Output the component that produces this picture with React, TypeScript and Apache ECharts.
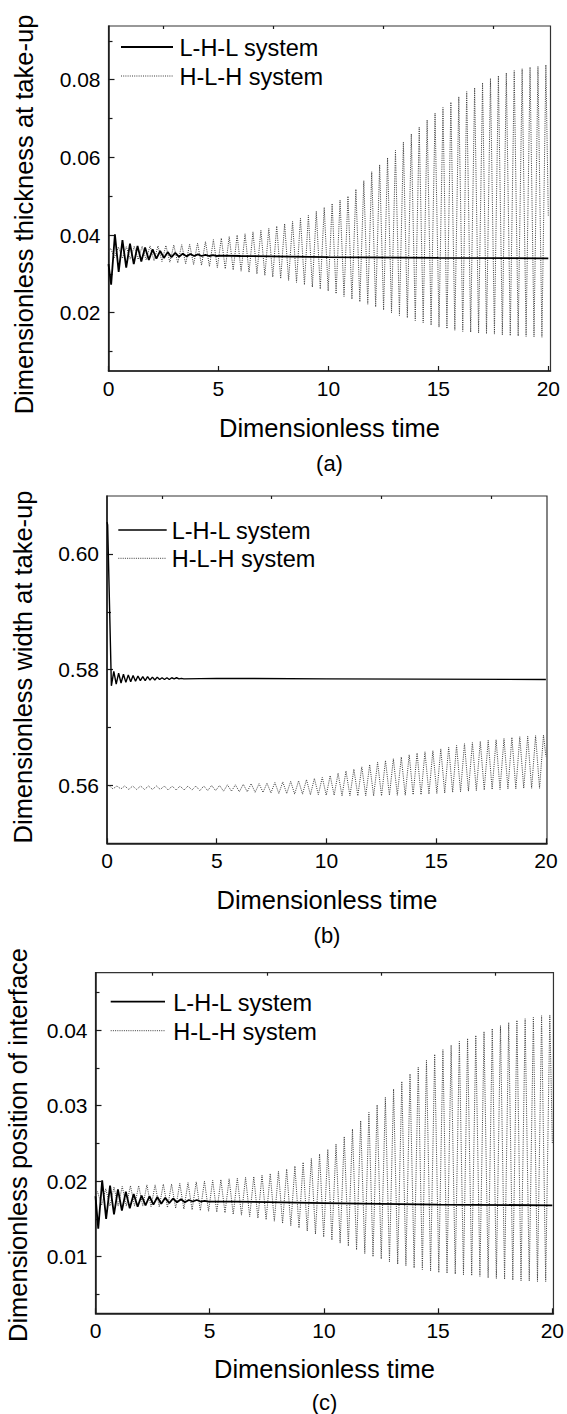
import React, { useEffect, useRef } from "react";
import * as echarts from "echarts";

const FONT = '"Liberation Sans", Arial, Helvetica, sans-serif';

// ---- axis tick values ----
const X_MAJOR = [0, 5, 10, 15, 20];
const X_MINOR = [2.5, 7.5, 12.5, 17.5];
const Y_MAJOR_A = [0.02, 0.04, 0.06, 0.08];
const Y_MINOR_A = [0.01, 0.03, 0.05, 0.07, 0.09];
const Y_MAJOR_B = [0.56, 0.58, 0.6];
const Y_MINOR_B = [0.57, 0.59];
const Y_MAJOR_C = [0.01, 0.02, 0.03, 0.04];
const Y_MINOR_C = [0.005, 0.015, 0.025, 0.035, 0.045];

const SERIES_NAMES = ["L-H-L system", "H-L-H system"];
const X_TITLE = "Dimensionless time";
const Y_TITLES = [
  "Dimensionless thickness at take-up",
  "Dimensionless width at take-up",
  "Dimensionless position of interface",
];
const CAPTIONS = ["(a)", "(b)", "(c)"];

// ---- H-L-H system: successive peak / trough values (period) ----
const HLH_T0 = 0.09;
const HLH_PERIOD = 0.36;

const hlhStartA = 0.0358;
const hlhPeaksA = [
  0.0366, 0.0369, 0.037, 0.0371, 0.0371, 0.0372, 0.0372, 0.0373, 0.0374, 0.0375,
  0.0376, 0.0379, 0.0383, 0.0388, 0.0392, 0.0396, 0.04, 0.0403, 0.0408, 0.0412,
  0.0417, 0.0423, 0.0429, 0.0435, 0.0443, 0.0451, 0.0461, 0.0471, 0.0481, 0.049,
  0.05, 0.0518, 0.054, 0.0563, 0.0581, 0.0599, 0.0618, 0.0639, 0.066, 0.0678,
  0.0696, 0.0714, 0.0728, 0.0742, 0.0756, 0.0769, 0.0779, 0.0792, 0.0803, 0.081,
  0.0817, 0.0823, 0.0828, 0.0832, 0.0834, 0.0838,
];
const hlhTroughsA = [
  0.0342, 0.034, 0.0338, 0.0337, 0.0336, 0.0334, 0.0332, 0.033, 0.0328, 0.0326,
  0.0324, 0.0322, 0.0319, 0.0316, 0.0313, 0.031, 0.0307, 0.0304, 0.03, 0.0296,
  0.0292, 0.0288, 0.0283, 0.0278, 0.0272, 0.0266, 0.0261, 0.0256, 0.0249, 0.0242,
  0.0235, 0.0228, 0.0222, 0.0215, 0.0207, 0.02, 0.0193, 0.0187, 0.018, 0.0174,
  0.0168, 0.0163, 0.0159, 0.0155, 0.0152, 0.015, 0.0148, 0.0146, 0.0145, 0.0143,
  0.0141, 0.014, 0.0139, 0.0138, 0.0137,
];
const hlhEndA = 0.045;

const hlhStartB = 0.5602;
const hlhPeaksB = [
  0.56, 0.5599, 0.5599, 0.5599, 0.5599, 0.5599, 0.5599, 0.5599, 0.5599, 0.5599,
  0.5599, 0.5599, 0.5599, 0.56, 0.56, 0.5601, 0.5601, 0.5602, 0.5603, 0.5603,
  0.5604, 0.5605, 0.5606, 0.5607, 0.5608, 0.561, 0.5612, 0.5614, 0.5617, 0.5621,
  0.5625, 0.5628, 0.5632, 0.5636, 0.564, 0.5643, 0.5646, 0.5649, 0.5653, 0.5656,
  0.5658, 0.566, 0.5663, 0.5666, 0.5669, 0.5672, 0.5674, 0.5676, 0.5678, 0.5679,
  0.5681, 0.5683, 0.5684, 0.5685, 0.5686, 0.5687,
];
const hlhTroughsB = [
  0.5594, 0.5594, 0.5593, 0.5593, 0.5593, 0.5593, 0.5593, 0.5592, 0.5592, 0.5592,
  0.5592, 0.5591, 0.5591, 0.5591, 0.559, 0.559, 0.5589, 0.5589, 0.5588, 0.5588,
  0.5587, 0.5586, 0.5586, 0.5585, 0.5585, 0.5584, 0.5584, 0.5583, 0.5583, 0.5582,
  0.5582, 0.5582, 0.5582, 0.5582, 0.5582, 0.5583, 0.5583, 0.5583, 0.5584, 0.5584,
  0.5585, 0.5586, 0.5587, 0.5588, 0.5589, 0.559, 0.5591, 0.5592, 0.5593, 0.5593,
  0.5594, 0.5594, 0.5595, 0.5595, 0.5595,
];
const hlhEndB = 0.565;

const hlhStartC = 0.018;
const hlhPeaksC = [
  0.0186, 0.019, 0.0192, 0.0193, 0.0194, 0.0194, 0.0195, 0.0195, 0.0196, 0.0196,
  0.0197, 0.0198, 0.0199, 0.02, 0.0201, 0.0202, 0.0203, 0.0204, 0.0205, 0.0206,
  0.0208, 0.021, 0.0213, 0.0216, 0.022, 0.0225, 0.023, 0.0236, 0.0242, 0.0249,
  0.0259, 0.0269, 0.028, 0.0291, 0.0301, 0.0311, 0.0322, 0.0332, 0.0342, 0.0351,
  0.036, 0.0368, 0.0374, 0.038, 0.0385, 0.0389, 0.0393, 0.0398, 0.0402, 0.0406,
  0.041, 0.0413, 0.0415, 0.0417, 0.0419, 0.042,
];
const hlhTroughsC = [
  0.0168, 0.0167, 0.0167, 0.0167, 0.0167, 0.0167, 0.0166, 0.0166, 0.0165, 0.0164,
  0.0163, 0.0162, 0.0161, 0.016, 0.0159, 0.0158, 0.0156, 0.0155, 0.0153, 0.0151,
  0.0149, 0.0147, 0.0144, 0.0141, 0.0138, 0.0134, 0.013, 0.0126, 0.0122, 0.0118,
  0.0114, 0.0109, 0.0104, 0.01, 0.0097, 0.0093, 0.009, 0.0088, 0.0085, 0.0083,
  0.0081, 0.0079, 0.0078, 0.0077, 0.0076, 0.0075, 0.0074, 0.0072, 0.0071, 0.007,
  0.0069, 0.0068, 0.0068, 0.0067, 0.0067,
];
const hlhEndC = 0.025;

// ---- L-H-L system: head points, decaying extrema, tail points ----
const lhlHeadA = [[0, 0.0325]];
const LHL_T0_A = 0.12;
const LHL_HALF_A = 0.1715;
const lhlExtremaA = [
  0.0272, 0.0402, 0.0305, 0.0387, 0.0316, 0.0378, 0.0325, 0.0372, 0.0332, 0.0368,
  0.0336, 0.0363, 0.0339, 0.0359, 0.0341, 0.0356, 0.0343, 0.0354, 0.0344, 0.0352,
  0.0345, 0.0351, 0.0346, 0.035, 0.0346, 0.0349, 0.0346, 0.0348, 0.0346, 0.0347,
];
const lhlTailA = [[6, 0.0346], [10, 0.0343], [15, 0.0341], [20, 0.034]];

const lhlHeadB = [[0, 0.6055], [0.03, 0.605]];
const LHL_T0_B = 0.2;
const LHL_HALF_B = 0.11;
const lhlExtremaB = [
  0.5772, 0.5797, 0.5775, 0.5794, 0.5777, 0.5792, 0.5778, 0.5791, 0.5779, 0.579,
  0.578, 0.5789, 0.5781, 0.5788, 0.5781, 0.5788, 0.5782, 0.5787, 0.5782, 0.5787,
  0.5783, 0.5786, 0.5783, 0.5786, 0.5783, 0.5786, 0.5784, 0.5786, 0.5784, 0.5785,
  0.5784,
];
const lhlTailB = [[5, 0.5785], [10, 0.5784], [20, 0.5783]];

const lhlHeadC = [[0, 0.018]];
const LHL_T0_C = 0.12;
const LHL_HALF_C = 0.1725;
const lhlExtremaC = [
  0.0137, 0.0201, 0.015, 0.0194, 0.0156, 0.0189, 0.0161, 0.0186, 0.0164, 0.0183,
  0.0166, 0.0181, 0.0168, 0.018, 0.0169, 0.0179, 0.017, 0.0178, 0.0171, 0.0177,
  0.0172, 0.0176, 0.0172, 0.0175, 0.0173, 0.0175, 0.0173, 0.0174, 0.0173,
];
const lhlTailC = [[6, 0.0173], [10, 0.0171], [15, 0.0169], [20, 0.0168]];

function hlhData(start: number, peaks: number[], troughs: number[], end: number) {
  const pts: number[][] = [[0, start]];
  peaks.forEach((p, k) => {
    pts.push([HLH_T0 + k * HLH_PERIOD, p]);
    if (k < troughs.length) pts.push([HLH_T0 + (k + 0.5) * HLH_PERIOD, troughs[k]]);
  });
  pts.push([20, end]);
  return pts;
}

function lhlData(head: number[][], t0: number, half: number, ext: number[], tail: number[][]) {
  return [...head, ...ext.map((v, i) => [t0 + i * half, v]), ...tail];
}

// ---- layout ----
const PANELS = [
  { left: 108.5, top: 26, width: 442, height: 345, xMax: 20.1, yMin: 0.005, yMax: 0.0938,
    major: Y_MAJOR_A, minor: Y_MINOR_A, yTitle: [24, 214.5], xTitle: [329.5, 427.5], cap: 463,
    leg: { x1: 121, x2: 173, tx: 179.5, y1: 47, y2: 76 }, lw: 1.8 },
  { left: 107, top: 496, width: 440, height: 347.3, xMax: 20.05, yMin: 0.55, yMax: 0.61,
    major: Y_MAJOR_B, minor: Y_MINOR_B, yTitle: [23, 667], xTitle: [327, 899.5], cap: 935,
    leg: { x1: 118.3, x2: 166.7, tx: 171.7, y1: 530, y2: 558.3 }, lw: 1.4 },
  { left: 95.5, top: 972.7, width: 458, height: 340.6, xMax: 20.05, yMin: 0.0025, yMax: 0.0476,
    major: Y_MAJOR_C, minor: Y_MINOR_C, yTitle: [18, 1145], xTitle: [324.5, 1369], cap: 1402,
    leg: { x1: 110.7, x2: 165, tx: 173.3, y1: 1001.7, y2: 1030.7 }, lw: 1.8 },
];

const AXIS_COLOR = "#1a1a1a";
const TEXT_COLOR = "#000";
const DOT_COLOR = "#3a3a3a";
const DOT_DASH = [1, 1.2];

export default function App() {
  const ref = useRef<HTMLDivElement>(null);

  useEffect(() => {
    if (!ref.current) return;
    const chart = echarts.init(ref.current, undefined, { renderer: "svg" });

    const hlh = [
      hlhData(hlhStartA, hlhPeaksA, hlhTroughsA, hlhEndA),
      hlhData(hlhStartB, hlhPeaksB, hlhTroughsB, hlhEndB),
      hlhData(hlhStartC, hlhPeaksC, hlhTroughsC, hlhEndC),
    ];
    const lhl = [
      lhlData(lhlHeadA, LHL_T0_A, LHL_HALF_A, lhlExtremaA, lhlTailA),
      lhlData(lhlHeadB, LHL_T0_B, LHL_HALF_B, lhlExtremaB, lhlTailB),
      lhlData(lhlHeadC, LHL_T0_C, LHL_HALF_C, lhlExtremaC, lhlTailC),
    ];

    const grid = PANELS.map((p) => ({
      left: p.left, top: p.top, width: p.width, height: p.height,
      show: true, borderColor: "#333", borderWidth: 1.2, backgroundColor: "transparent",
    }));

    const labelStyle = { color: TEXT_COLOR, fontSize: 21, fontFamily: FONT };

    const xMajor = PANELS.map((p, i) => ({
      type: "value", gridIndex: i, min: 0, max: p.xMax,
      axisLine: { show: true, onZero: false, lineStyle: { color: AXIS_COLOR, width: 1.5 } },
      axisTick: { show: true, inside: true, length: 5, customValues: X_MAJOR, lineStyle: { color: AXIS_COLOR, width: 1.2 } },
      axisLabel: { ...labelStyle, margin: 7, customValues: X_MAJOR, formatter: (v: number) => String(v) },
      splitLine: { show: false },
    }));
    const xMinor = PANELS.map((p, i) => ({
      type: "value", gridIndex: i, min: 0, max: p.xMax,
      axisLine: { show: false, onZero: false },
      axisTick: { show: true, inside: true, length: 3, customValues: X_MINOR, lineStyle: { color: AXIS_COLOR, width: 1.2 } },
      axisLabel: { show: false },
      splitLine: { show: false },
    }));
    const yMajor = PANELS.map((p, i) => ({
      type: "value", gridIndex: i, min: p.yMin, max: p.yMax, position: "left",
      axisLine: { show: true, onZero: false, lineStyle: { color: AXIS_COLOR, width: 1.5 } },
      axisTick: { show: true, inside: true, length: 6, customValues: p.major, lineStyle: { color: AXIS_COLOR, width: 1.2 } },
      axisLabel: { ...labelStyle, margin: 8, customValues: p.major, formatter: (v: number) => v.toFixed(2) },
      splitLine: { show: false },
    }));
    const yMinor = PANELS.map((p, i) => ({
      type: "value", gridIndex: i, min: p.yMin, max: p.yMax, position: "left",
      axisLine: { show: false, onZero: false },
      axisTick: { show: true, inside: true, length: 4, customValues: p.minor, lineStyle: { color: AXIS_COLOR, width: 1.2 } },
      axisLabel: { show: false },
      splitLine: { show: false },
    }));

    const series: any[] = [];
    PANELS.forEach((p, i) => {
      series.push({
        type: "line", name: SERIES_NAMES[1], xAxisIndex: i, yAxisIndex: i,
        data: hlh[i], showSymbol: false, symbol: "none", clip: true,
        lineStyle: { color: DOT_COLOR, width: 1, type: DOT_DASH },
        z: 2,
      });
      series.push({
        type: "line", name: SERIES_NAMES[0], xAxisIndex: i, yAxisIndex: i,
        data: lhl[i], showSymbol: false, symbol: "none", clip: true,
        lineStyle: { color: "#000", width: p.lw },
        z: 3,
      });
    });

    const graphic: any[] = [];
    PANELS.forEach((p, i) => {
      graphic.push({
        type: "text", x: p.yTitle[0], y: p.yTitle[1], rotation: Math.PI / 2,
        style: { text: Y_TITLES[i], fill: TEXT_COLOR, font: `25.5px ${FONT}`, align: "center", verticalAlign: "middle" },
      });
      graphic.push({
        type: "text", x: p.xTitle[0], y: p.xTitle[1],
        style: { text: X_TITLE, fill: TEXT_COLOR, font: `25.5px ${FONT}`, align: "center", verticalAlign: "middle" },
      });
      graphic.push({
        type: "text", x: p.xTitle[0], y: p.cap,
        style: { text: CAPTIONS[i], fill: TEXT_COLOR, font: `22px ${FONT}`, align: "center", verticalAlign: "middle" },
      });
      const L = p.leg;
      graphic.push({
        type: "line", shape: { x1: L.x1, y1: L.y1, x2: L.x2, y2: L.y1 },
        style: { stroke: "#000", lineWidth: p.lw },
      });
      graphic.push({
        type: "line", shape: { x1: L.x1, y1: L.y2, x2: L.x2, y2: L.y2 },
        style: { stroke: DOT_COLOR, lineWidth: 1, lineDash: DOT_DASH },
      });
      graphic.push({
        type: "text", x: L.tx, y: L.y1 + 1,
        style: { text: SERIES_NAMES[0], fill: TEXT_COLOR, font: `23.5px ${FONT}`, align: "left", verticalAlign: "middle" },
      });
      graphic.push({
        type: "text", x: L.tx, y: L.y2 + 1,
        style: { text: SERIES_NAMES[1], fill: TEXT_COLOR, font: `23.5px ${FONT}`, align: "left", verticalAlign: "middle" },
      });
    });

    chart.setOption({
      animation: false,
      backgroundColor: "#fff",
      textStyle: { fontFamily: FONT },
      grid,
      xAxis: [...xMajor, ...xMinor],
      yAxis: [...yMajor, ...yMinor],
      series,
      graphic,
    });

    return () => chart.dispose();
  }, []);

  return (
    <div
      ref={ref}
      style={{ position: "absolute", left: 0, top: 0, width: 567, height: 1414, background: "#fff" }}
    />
  );
}
